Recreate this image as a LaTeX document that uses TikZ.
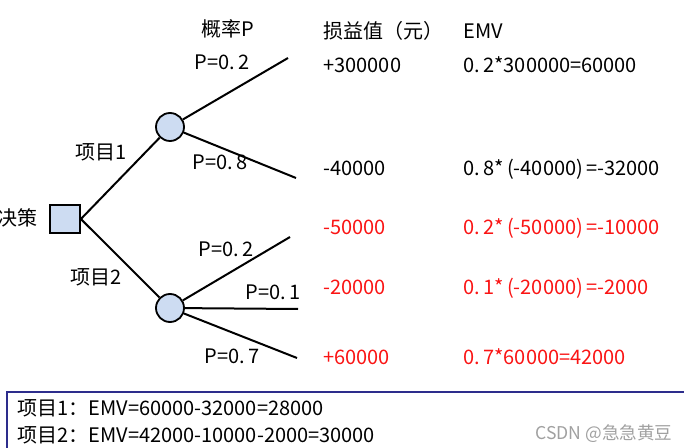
\documentclass[tikz,border=0pt]{standalone}
\usepackage{fontspec}
\setmainfont{Noto Sans CJK SC}
\usetikzlibrary{positioning}
\definecolor{nodefill}{RGB}{205,220,242}
\definecolor{loss}{RGB}{250,20,20}
\definecolor{frame}{RGB}{45,45,140}
\definecolor{wmgray}{RGB}{160,160,160}

\begin{document}
\begin{tikzpicture}[x=0.5pt, y=-0.5pt,
      decision/.style={rectangle, draw=black, fill=nodefill, line width=0.9pt,
                       minimum width=15pt, minimum height=14pt, inner sep=0pt},
      chance/.style={circle, draw=black, fill=nodefill, line width=0.9pt,
                     minimum size=14pt, inner sep=0pt},
      branch/.style={line width=1pt},
      lbl/.style={font=\fontsize{10}{12}\selectfont, inner sep=0pt,
                  text height=0.9em, text depth=0.15em},
      col/.style={lbl, anchor=west}
    ]
    \useasboundingbox (0,0) rectangle (684,448);
    % tree nodes
    \node[decision] (d)  at (65,219)  {};
    \node[chance]   (c1) at (170,127) {};
    \node[chance]   (c2) at (170,308) {};
    \coordinate (e1) at (288,58);
    \coordinate (e2) at (296,178);
    \coordinate (e3) at (290,237);
    \coordinate (e4) at (298,309);
    \coordinate (e5) at (297,358);
    \draw[branch] (d.east) -- (c1);
    \draw[branch] (d.east) -- (c2);
    \draw[branch] (c1) -- (e1);
    \draw[branch] (c1) -- (e2);
    \draw[branch] (c2) -- (e3);
    \draw[branch] (c2) -- (e4);
    \draw[branch] (c2) -- (e5);
    % labels on the tree
    \node[lbl, anchor=east] (root) at (38,218) {决策};
    \node[lbl] (p1) at (101,152) {项目1};
    \node[lbl] (p2) at (96,277)  {项目2};
    \node[lbl] (q1) at (222,62)  {P=0.\,2};
    \node[lbl] (q2) at (220,162) {P=0.\,8};
    \node[lbl] (q3) at (226,249) {P=0.\,2};
    \node[lbl] (q4) at (273,292) {P=0.\,1};
    \node[lbl] (q5) at (232,356) {P=0.\,7};
    % column heads
    \node[lbl] (hp) at (228,29) {概率P};
    \node[col] (hv) at (323,31) {损益值（元）};
    \node[col] (he) at (463,31) {EMV};
    % payoffs and EMV
    \node[col] (v1) at (323,65)  {+300000};
    \node[col] (v2) at (323,168) {-40000};
    \node[col, loss] (v3) at (323,227) {-50000};
    \node[col, loss] (v4) at (323,287) {-20000};
    \node[col, loss] (v5) at (323,357) {+60000};
    \node[col] (m1) at (463,65)  {0.\,2*300000=60000};
    \node[col] (m2) at (463,168) {0.\,8*\,(-40000)\,=-32000};
    \node[col, loss] (m3) at (463,227) {0.\,2*\,(-50000)\,=-10000};
    \node[col, loss] (m4) at (463,287) {0.\,1*\,(-20000)\,=-2000};
    \node[col, loss] (m5) at (463,357) {0.\,7*60000=42000};
    % summary box
    \draw[frame, line width=1pt] (7,392) rectangle (700,460);
    \node[col] (s1) at (17,408) {项目1：EMV=60000-32000=28000};
    \node[col] (s2) at (17,435) {项目2：EMV=42000-10000-2000=30000};
    \node[col, wmgray, font=\fontsize{8.8}{10}\selectfont] (wm) at (535,432) {CSDN @急急黄豆};
  \end{tikzpicture}
\end{document}
